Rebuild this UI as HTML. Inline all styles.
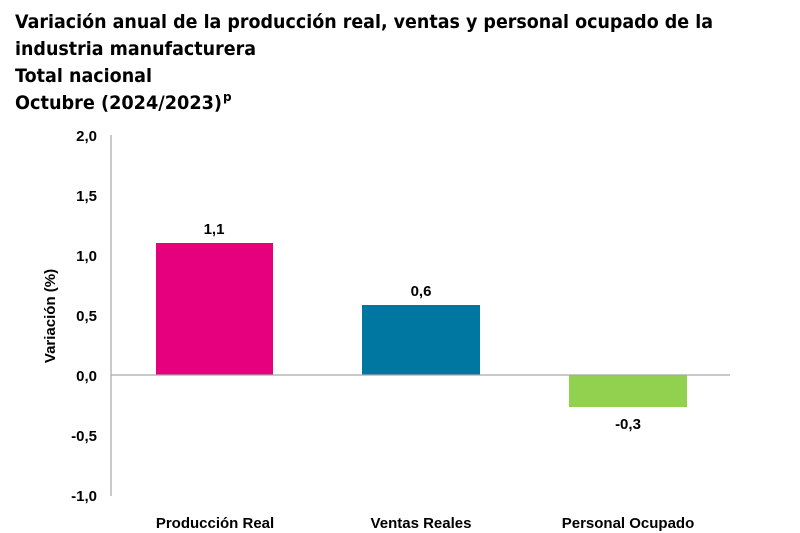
<!DOCTYPE html>
<html><head><meta charset="utf-8"><style>
html,body{margin:0;padding:0;background:#fff;}
svg{display:block;font-family:"Liberation Sans",sans-serif;}
</style></head><body>
<svg width="800" height="533" viewBox="0 0 800 533">
<g font-weight="bold" font-size="19" fill="#000" font-family="DejaVu Sans, sans-serif">
<text x="15" y="28" textLength="698" lengthAdjust="spacingAndGlyphs">Variación anual de la producción real, ventas y personal ocupado de la</text>
<text x="15" y="55" textLength="241" lengthAdjust="spacingAndGlyphs">industria manufacturera</text>
<text x="15" y="82" textLength="137" lengthAdjust="spacingAndGlyphs">Total nacional</text>
<text x="15" y="109" textLength="207" lengthAdjust="spacingAndGlyphs">Octubre (2024/2023)</text>
<text x="223" y="101" font-size="12">p</text>
</g>
<line x1="111" y1="135" x2="111" y2="496" stroke="#a6a6a6" stroke-width="1.2"/>
<rect x="156" y="243" width="117" height="132" fill="#e6007e"/>
<rect x="362" y="305" width="118" height="70" fill="#0077a0"/>
<rect x="569" y="375" width="118" height="32" fill="#92d050"/>
<line x1="111" y1="375" x2="730" y2="375" stroke="#a6a6a6" stroke-width="1.2"/>
<g font-weight="bold" font-size="15" fill="#000" text-anchor="end">
<text x="97" y="141">2,0</text>
<text x="97" y="201">1,5</text>
<text x="97" y="261">1,0</text>
<text x="97" y="321">0,5</text>
<text x="97" y="381">0,0</text>
<text x="97" y="441">-0,5</text>
<text x="97" y="501">-1,0</text>
</g>
<g font-weight="bold" font-size="15" fill="#000" text-anchor="middle">
<text x="214" y="234">1,1</text>
<text x="421" y="296">0,6</text>
<text x="628" y="429">-0,3</text>
<text x="215" y="528">Producción Real</text>
<text x="421" y="528">Ventas Reales</text>
<text x="628" y="528">Personal Ocupado</text>
<text transform="translate(55,316) rotate(-90)">Variación (%)</text>
</g>
</svg>
</body></html>
